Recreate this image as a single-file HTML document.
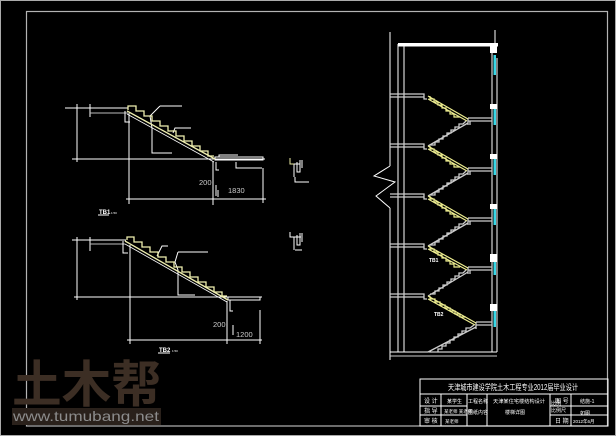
<!DOCTYPE html>
<html><head><meta charset="utf-8"><style>
html,body{margin:0;padding:0;background:#000;width:616px;height:436px;overflow:hidden}
svg{display:block}
text{font-family:"Liberation Sans","Noto Sans CJK SC",sans-serif}
</style></head><body>
<svg width="616" height="436" viewBox="0 0 616 436" xmlns="http://www.w3.org/2000/svg">
<rect x="0.5" y="0.5" width="615" height="435" fill="#000" stroke="#aaa" stroke-width="1"/>
<rect x="26.5" y="11.5" width="581" height="414.5" fill="none" stroke="#b4b4b4" stroke-width="1.2"/>

<!-- logo -->
<text x="12" y="402" font-size="50" font-weight="bold" fill="#3c2e24" font-family="'Noto Sans CJK SC',sans-serif" textLength="149" lengthAdjust="spacingAndGlyphs">土木帮</text>
<rect x="12" y="408" width="149" height="17" fill="#2a211b"/>
<text x="13" y="421" font-size="14" fill="#8c8c8c" textLength="146" lengthAdjust="spacingAndGlyphs">www.tumubang.net</text>

<!-- title block -->
<g stroke="#fff" stroke-width="1" fill="none">
<rect x="420" y="379" width="188" height="47"/>
<line x1="420" y1="394" x2="608" y2="394"/>
<line x1="420" y1="406" x2="467" y2="406"/><line x1="550" y1="406" x2="608" y2="406"/>
<line x1="420" y1="415" x2="467" y2="415"/><line x1="550" y1="415" x2="608" y2="415"/>
<line x1="441" y1="394" x2="441" y2="426"/><line x1="467" y1="394" x2="467" y2="426"/>
<line x1="487" y1="394" x2="487" y2="426"/><line x1="550" y1="394" x2="550" y2="426"/>
<line x1="571" y1="394" x2="571" y2="426"/>
<line x1="487" y1="406" x2="550" y2="406" stroke-opacity="0"/>
</g>
<g fill="#fff" font-size="6" font-family="'Noto Sans CJK SC',sans-serif">
<text x="448" y="390" font-size="8" textLength="130" lengthAdjust="spacingAndGlyphs">天津城市建设学院土木工程专业2012届毕业设计</text>
<text x="424" y="403">设 计</text><text x="447" y="403" font-size="5">某学生</text><text x="468" y="403" font-size="5">工程名称</text>
<text x="493" y="403" font-size="5" textLength="52" lengthAdjust="spacingAndGlyphs">天津某住宅楼结构设计</text><text x="555" y="403">图 号</text><text x="580" y="403" font-size="5">结施-1</text>
<text x="424" y="413">指 导</text><text x="444" y="413" font-size="4.5">某老师 某老师</text>
<text x="468" y="414" font-size="5">图纸内容</text><text x="505" y="414" font-size="5">楼梯详图</text>
<text x="551" y="405" font-size="5">比例</text><text x="551" y="412" font-size="5">比例尺</text>
<text x="580" y="415" font-size="5">如图</text>
<text x="424" y="423">审 核</text><text x="445" y="423" font-size="4.5">某老师</text>
<text x="555" y="423">日 期</text><text x="573" y="423" font-size="4.5">2012年6月</text>
</g>

<!-- stair 1 -->
<g stroke="#fff" stroke-width="1" fill="none">
<line x1="65" y1="108" x2="128" y2="108"/>
<line x1="77" y1="104" x2="77" y2="162"/>
<line x1="72" y1="159" x2="265" y2="159"/>
<line x1="90" y1="104" x2="90" y2="117"/>
<line x1="90" y1="113" x2="128" y2="113" stroke="#bbb"/>
<path d="M125,111 L125,122 L130,122"/>
<line x1="129" y1="113" x2="129" y2="204"/>
<line x1="126" y1="199" x2="266" y2="199"/>
<line x1="263" y1="168" x2="263" y2="203"/>
<line x1="213" y1="161" x2="213" y2="205"/>
<path d="M216,162 L216,170 L219,170"/>
<rect x="215" y="157" width="48" height="3"/>
<path d="M219,157 L219,155 L238,155"/>
<path d="M236,162 L236,168 L262,168"/>
<path d="M160,106 L182,106 M160,106 L150,116 L152,128 L152,153 L172,153"/>
<path d="M173,133 L175,128 L191,128"/>
<line x1="216" y1="185" x2="216" y2="196"/><line x1="218" y1="190" x2="218" y2="197"/>
</g>
<g stroke="#f0f0b0" stroke-width="1.3" fill="none">
<line x1="127" y1="111" x2="215" y2="159"/>
<line x1="127" y1="114" x2="214" y2="162" stroke="#fff" stroke-width="0.8"/>
<path d="M128,110 L128,106 L136,106 L136,111 L144,111 L144,116 L152,116 L152,121 L160,121 L160,126 L168,126 L168,131 L176,131 L176,136 L184,136 L184,141 L192,141 L192,146 L200,146 L200,151 L208,151 L208,156 L214,156"/>
</g>
<text x="199" y="185" fill="#ccc" font-size="7.5">200</text>
<text x="228" y="193" fill="#ccc" font-size="7.5">1830</text>
<text x="99" y="214" fill="#fff" font-size="6" font-weight="bold">TB1</text>
<text x="111" y="214" fill="#fff" font-size="3">1:50</text>
<line x1="98" y1="215" x2="109" y2="215" stroke="#fff"/>

<!-- stair 2 -->
<g stroke="#fff" stroke-width="1" fill="none">
<line x1="72" y1="240" x2="126" y2="240"/>
<line x1="77" y1="237" x2="77" y2="300"/>
<line x1="74" y1="297" x2="262" y2="297"/>
<line x1="90" y1="237" x2="90" y2="251"/>
<line x1="90" y1="244" x2="125" y2="244" stroke="#bbb"/>
<path d="M123,241 L123,253 L128,253"/>
<line x1="130" y1="245" x2="130" y2="344"/>
<line x1="127" y1="340" x2="262" y2="340"/>
<line x1="260" y1="310" x2="260" y2="344"/>
<line x1="227" y1="301" x2="227" y2="344"/>
<path d="M230,300 L230,311 L233,311"/>
<rect x="228" y="297" width="32" height="3"/>
<path d="M178,252 L208,252 M178,252 L175,262 L178,270 L178,295 L195,295"/>
<path d="M157,256 L162,246 L168,246"/>
<line x1="233" y1="325" x2="233" y2="335"/>
</g>
<g stroke="#f0f0b0" stroke-width="1.3" fill="none">
<line x1="125" y1="241" x2="228" y2="300"/>
<line x1="125" y1="244" x2="227" y2="302" stroke="#fff" stroke-width="0.8"/>
<path d="M127,240 L127,237 L134,237 L134,242 L142,242 L142,247 L150,247 L150,252 L158,252 L158,257 L166,257 L166,262 L174,262 L174,267 L182,267 L182,272 L190,272 L190,277 L198,277 L198,282 L206,282 L206,287 L214,287 L214,292 L222,292 L222,296 L227,296"/>
</g>
<text x="213" y="327" fill="#ccc" font-size="7.5">200</text>
<text x="236" y="337" fill="#ccc" font-size="7.5">1200</text>
<text x="159" y="352" fill="#fff" font-size="6" font-weight="bold">TB2</text>
<text x="172" y="352" fill="#fff" font-size="3">1:50</text>
<line x1="158" y1="353" x2="170" y2="353" stroke="#fff"/>

<!-- small details -->
<g stroke="#fff" stroke-width="1" fill="none">
<path d="M290,158 L290,164 L294,164 L294,177 M297,162 L297,172 L300,172 L300,160 M294,164 L300,164 M295,177 L295,182 L309,182 M302,160 L302,168"/>
<path d="M290,232 L290,237 L294,237 L294,250 M297,235 L297,245 L300,245 L300,233 M294,237 L301,237 M295,250 L302,250 M302,233 L302,242"/>
</g>
<path d="M290,158 L290,164 L294,164" stroke="#e8e8a0" fill="none"/>

<!-- building section -->
<g stroke="#fff" stroke-width="1" fill="none">
<line x1="390" y1="32" x2="390" y2="166"/>
<line x1="390" y1="208" x2="390" y2="360"/>
<path d="M390,166 L374,176 L395,182 L376,196 L390,208"/>
<line x1="398" y1="44" x2="398" y2="352"/>
<line x1="404" y1="44" x2="404" y2="352"/>
<line x1="492" y1="44" x2="492" y2="352"/>
<line x1="497" y1="58" x2="497" y2="352"/>
<line x1="495" y1="30" x2="495" y2="44"/>
<line x1="390" y1="352" x2="497" y2="352"/>
<line x1="390" y1="356" x2="497" y2="356" stroke="#ccc"/>
</g>
<rect x="398" y="43" width="100" height="3.5" fill="#fff"/>
<g fill="#39d7e6">
<rect x="493.5" y="55" width="2.5" height="20"/><rect x="493.5" y="105" width="2.5" height="20"/>
<rect x="493.5" y="155" width="2.5" height="20"/><rect x="493.5" y="205" width="2.5" height="20"/>
<rect x="493.5" y="255" width="2.5" height="20"/><rect x="493.5" y="305" width="2.5" height="22"/>
</g>
<g fill="#fff">
<rect x="490" y="46" width="7" height="7"/><rect x="490" y="104" width="7" height="5"/>
<rect x="490" y="154" width="7" height="5"/><rect x="490" y="204" width="7" height="5"/>
<rect x="490" y="254" width="7" height="8"/><rect x="490" y="304" width="7" height="7"/>
</g>
<g stroke="#ccc" stroke-width="1.3" fill="none">
<path d="M390,94 L424,94 L424,99 L427,99 M390,97 L424,97"/>
<path d="M390,144 L424,144 L424,149 L427,149 M390,147 L424,147"/>
<path d="M390,194 L424,194 L424,199 L427,199 M390,197 L424,197"/>
<path d="M390,244 L424,244 L424,249 L427,249 M390,247 L424,247"/>
<path d="M390,294 L424,294 L424,299 L427,299 M390,297 L424,297"/>
<path d="M468,118 L492,118 M468,121 L492,121 M468,118 L468,125 M470,125 L470,121"/>
<path d="M468,168 L492,168 M468,171 L492,171 M468,168 L468,175 M470,175 L470,171"/>
<path d="M468,218 L492,218 M468,221 L492,221 M468,218 L468,225 M470,225 L470,221"/>
<path d="M468,267 L492,267 M468,270 L492,270 M468,267 L468,274 M470,274 L470,270"/>
<path d="M476,322 L492,322 M476,325 L492,325 M476,322 L476,329"/>
<!-- return flights gray -->
<path d="M468,123 L428,146 M466,121 L463,124 L459,124 L459,127 L455,127 L455,130 L451,130 L451,133 L447,133 L447,136 L443,136 L443,139 L439,139 L439,142 L435,142 L435,145 L430,145"/>
<path d="M468,173 L428,196 M466,171 L463,174 L459,174 L459,177 L455,177 L455,180 L451,180 L451,183 L447,183 L447,186 L443,186 L443,189 L439,189 L439,192 L435,192 L435,195 L430,195"/>
<path d="M468,223 L428,246 M466,221 L463,224 L459,224 L459,227 L455,227 L455,230 L451,230 L451,233 L447,233 L447,236 L443,236 L443,239 L439,239 L439,242 L435,242 L435,245 L430,245"/>
<path d="M468,272 L428,296 M466,270 L463,273 L459,273 L459,276 L455,276 L455,279 L451,279 L451,282 L447,282 L447,285 L443,285 L443,288 L439,288 L439,291 L435,291 L435,294 L430,294"/>
<path d="M476,327 L428,352 M474,325 L470,328 L466,328 L466,331 L462,331 L462,334 L458,334 L458,337 L454,337 L454,340 L450,340 L450,343 L446,343 L446,346 L442,346 L442,349 L438,349 L438,352"/>
</g>
<g stroke="#eeee90" stroke-width="1.2" fill="none">
<path d="M428,96 L468,119 M428,99 L467,121 M430,96 L430,99 L434,99 L434,102 L438,102 L438,105 L442,105 L442,108 L446,108 L446,111 L450,111 L450,114 L454,114 L454,117 L460,117"/>
<path d="M428,146 L468,169 M428,149 L467,171 M430,146 L430,149 L434,149 L434,152 L438,152 L438,155 L442,155 L442,158 L446,158 L446,161 L450,161 L450,164 L454,164 L454,167 L460,167"/>
<path d="M428,196 L468,219 M428,199 L467,221 M430,196 L430,199 L434,199 L434,202 L438,202 L438,205 L442,205 L442,208 L446,208 L446,211 L450,211 L450,214 L454,214 L454,217 L460,217"/>
<path d="M428,246 L468,268 M428,249 L467,270 M430,246 L430,249 L434,249 L434,252 L438,252 L438,255 L442,255 L442,258 L446,258 L446,261 L450,261 L450,264 L454,264 L454,267 L460,267"/>
<path d="M428,296 L476,323 M428,299 L475,325 M430,296 L430,299 L435,299 L435,302 L440,302 L440,305 L445,305 L445,308 L450,308 L450,311 L455,311 L455,314 L460,314 L460,317 L466,317"/>
</g>
<text x="429" y="262" fill="#fff" font-size="5" font-weight="bold">TB1</text>
<text x="434" y="316" fill="#fff" font-size="5" font-weight="bold">TB2</text>
</svg>
</body></html>
